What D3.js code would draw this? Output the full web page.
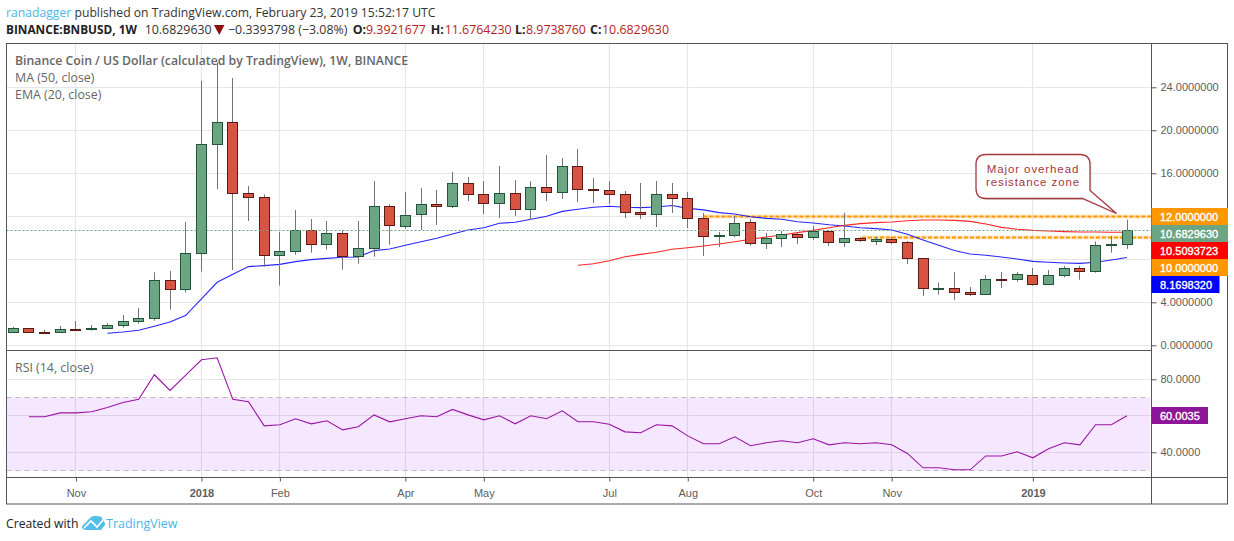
<!DOCTYPE html>
<html><head><meta charset="utf-8">
<script src="https://cdn.jsdelivr.net/npm/d3@7/dist/d3.min.js"></script>
<style>html,body{margin:0;padding:0;background:#fff;overflow:hidden}svg{display:block}
text{font-family:"Liberation Sans",Arial,sans-serif}
.hd{font-family:"Open Sans",sans-serif}</style></head><body>
<svg id="c" width="1234" height="541"></svg>
<script>
// Weekly candles, index 0..71
const opens=[1.21,1.58,1.24,1.21,1.52,1.52,1.58,1.86,2.23,2.51,6.05,5.21,8.56,18.70,20.73,14.13,13.76,8.36,8.74,10.69,9.39,10.41,8.24,9.02,12.93,11.16,12.14,13.11,12.9,15.07,14.04,13.17,14.13,12.62,14.69,14.2,16.65,14.5,14.41,14.04,12.37,12.15,14.04,13.67,11.81,10.13,10.19,11.44,9.45,9.92,10.32,10.01,10.6,9.55,9.95,9.73,9.86,9.58,8.09,5.27,5.3,4.93,4.71,6.14,6.14,6.51,5.64,6.51,7.16,6.85,9.35,9.3921677];
const highs=[1.71,1.58,1.43,1.80,2.26,1.89,2.05,2.82,3.47,6.79,6.91,11.47,24.6,26.3,24.86,14.82,14.04,10.54,12.59,11.75,11.56,10.69,11.56,15.28,13.11,14.26,14.63,14.45,16.12,15.66,15.28,16.68,15.37,15.28,17.7,17.42,18.26,15.56,15.28,14.35,15.1,15.28,15.1,14.26,12.31,10.54,12.03,11.75,10.45,10.63,10.45,11.1,10.73,12.31,10.07,10.07,10.07,9.7,8.09,5.83,6.81,5.42,6.54,6.81,6.81,7.19,7.0,7.38,7.38,9.67,10.17,11.676423];
const lows=[1.21,1.21,1.09,1.21,1.36,1.36,1.58,1.64,2.02,2.29,3.32,4.90,6.85,14.54,7.0,11.56,7.31,5.55,8.43,8.62,8.90,7.03,7.59,8.24,9.35,10.82,10.73,11.19,12.77,13.42,12.21,11.84,12.03,11.66,13.42,13.61,13.32,13.23,13.14,11.84,11.75,11.0,12.31,10.91,8.31,9.14,10.07,9.27,8.96,9.14,9.42,9.8,9.24,9.14,9.61,9.33,9.42,7.56,4.59,4.70,4.24,4.59,4.71,5.33,5.92,5.55,5.64,6.32,6.1,6.76,8.62,8.973876];
const closes=[1.58,1.21,1.18,1.49,1.46,1.58,1.86,2.23,2.51,6.05,5.21,8.56,18.70,20.73,14.13,13.76,8.36,8.74,10.69,9.39,10.41,8.24,9.02,12.93,11.16,12.14,13.11,12.9,15.07,14.01,13.17,14.13,12.62,14.69,14.2,16.65,14.48,14.38,14.01,12.34,12.15,14.04,13.64,11.78,10.1,10.25,11.35,9.45,9.95,10.32,10.01,10.6,9.55,9.95,9.73,9.89,9.55,8.09,5.27,5.33,4.9,4.71,6.14,6.1,6.6,5.64,6.51,7.16,6.85,9.3,9.39,10.682963];
const emaStart=6;
const ema20=[1.12,1.24,1.40,1.77,2.17,2.79,4.31,5.86,6.6,7.32,7.41,7.53,7.78,7.97,8.09,8.19,8.22,8.81,8.96,9.3,9.64,9.95,10.35,10.73,10.94,11.35,11.44,11.72,12.0,12.46,12.65,12.84,12.93,12.84,12.81,12.86,13.0,12.74,12.6,12.34,12.21,11.96,11.81,11.72,11.5,11.38,11.22,11.1,10.94,10.85,10.73,10.33,9.8,9.3,8.82,8.49,8.37,8.21,8.03,7.81,7.72,7.66,7.62,7.72,7.93,8.169832];
const maStart=36;
const ma50=[7.44,7.59,7.87,8.24,8.46,8.65,8.93,9.08,9.24,9.42,9.64,9.86,10.07,10.26,10.48,10.69,10.94,11.16,11.32,11.41,11.47,11.59,11.66,11.66,11.62,11.53,11.28,10.97,10.79,10.69,10.63,10.57,10.54,10.54,10.52,10.5093723];
const rsiStart=1;
const rsi14=[59.5,59.5,61.6,61.6,62.2,64.6,67.3,69,82.5,73.9,82.3,90.7,91.8,69,67.7,54.5,55.1,58.4,55.6,57.3,52.3,54,60.5,56.7,58.4,60,59.5,63.5,60.5,57.8,60,55.6,60,58.4,62.7,56.7,56.7,55.4,51.2,50.7,55.1,54.5,49,44.7,44.7,48.5,43.6,45.2,46.3,45.2,47.4,44.1,45.2,44.7,45.2,44.1,39.4,31.5,31.5,30.4,30.4,38,38,40.3,37,42,45.2,44.1,55.1,55.1,60.0035];
const priceTicks=[0,4,16,20,24];
const priceGrid=[0,4,8,12,16,20,24];
const rsiTicks=[40,80];
const timeIdx=[4,12,17,25,30,38,43,51,56,65];
const timeLabels=["Nov","2018","Feb","Apr","May","Jul","Aug","Oct","Nov","2019"];
const levels=[{v:12,from:44},{v:10,from:54.1}];
const priceTags=[["12.0000000","#ff9800"],["10.6829630","#6ba583"],["10.5093723","#ff0000"],["10.0000000","#ff9800"],["8.1698320","#0000ff"]];

const svg=d3.select("#c");
const L=6.5,R=1151.5,O=1227.5,T=43.5,M=350,B=477,E=504;
const x=d3.scaleLinear().domain([0,71]).range([13.2,1127]);
const y=d3.scaleLinear().domain([0,24]).range([345.3,87.3]);
const yr=d3.scaleLinear().domain([40,80]).range([452.3,379.3]);
const fmt7=d=>d.toFixed(7), fmt4=d=>d.toFixed(4);
const snap=v=>Math.round(v-.5)+.5;
const gridC="#e6e6e6",frame="#555",txt="#5d5d5d";

svg.append("rect").attr("width",1234).attr("height",541).attr("fill","#fff");
// grid
svg.append("g").selectAll("line").data(timeIdx).join("line")
 .attr("x1",d=>snap(x(d))).attr("x2",d=>snap(x(d))).attr("y1",T).attr("y2",B).attr("stroke",gridC).attr("stroke-width",1.2);
svg.append("g").selectAll("line").data(priceGrid).join("line")
 .attr("x1",L).attr("x2",R).attr("y1",d=>snap(y(d))).attr("y2",d=>snap(y(d))).attr("stroke",gridC).attr("stroke-width",1.2);
svg.append("g").selectAll("line").data(rsiTicks.concat([60])).join("line")
 .attr("x1",L).attr("x2",R).attr("y1",d=>snap(yr(d))).attr("y2",d=>snap(yr(d))).attr("stroke",gridC).attr("stroke-width",1.2);
// rsi band
svg.append("rect").attr("x",L).attr("width",R-L-1.5).attr("y",yr(70)).attr("height",yr(30)-yr(70)).attr("fill","#9915ff").attr("fill-opacity",.1);
[70,30].forEach(v=>svg.append("line").attr("x1",L).attr("x2",R-1.5).attr("y1",snap(yr(v))).attr("y2",snap(yr(v))).attr("stroke","#c3b6c8").attr("stroke-dasharray","5 4"));
// levels
levels.forEach(l=>{
 const x0=x(l.from),yy=snap(y(l.v));
 svg.append("line").attr("x1",x0).attr("x2",R).attr("y1",yy).attr("y2",yy).attr("stroke","#ff9800").attr("stroke-opacity",.22).attr("stroke-width",4);
 svg.append("line").attr("x1",x0).attr("x2",R).attr("y1",yy).attr("y2",yy).attr("stroke","#ff9800").attr("stroke-width",2).attr("stroke-dasharray","4 2");
});
// MA lines, behind the candles
const ln=(arr,st,yy)=>d3.line().x((d,i)=>x(i+st)).y(d=>yy(d))(arr);
svg.append("path").attr("d",ln(ema20,emaStart,y)).attr("fill","none").attr("stroke","#0000ff").attr("stroke-opacity",.85).attr("stroke-width",1.1);
svg.append("path").attr("d",ln(ma50,maStart,y)).attr("fill","none").attr("stroke","#ff0000").attr("stroke-opacity",.85).attr("stroke-width",1.1);
svg.append("path").attr("d",ln(rsi14,rsiStart,yr)).attr("fill","none").attr("stroke","#9915a5").attr("stroke-width",1.1);
// candles
const idx=d3.range(opens.length);
svg.append("g").selectAll("line").data(idx).join("line")
 .attr("x1",i=>snap(x(i))).attr("x2",i=>snap(x(i))).attr("y1",i=>y(highs[i])).attr("y2",i=>y(lows[i])).attr("stroke","#737375").attr("stroke-width",1);
svg.append("g").selectAll("rect").data(idx).join("rect")
 .attr("x",i=>snap(x(i))-5).attr("width",10)
 .attr("y",i=>Math.round(y(Math.max(opens[i],closes[i])))+.5)
 .attr("height",i=>Math.max(1,Math.round(Math.abs(y(opens[i])-y(closes[i])))))
 .attr("fill",i=>closes[i]>=opens[i]?"#6ba583":"#d75442")
 .attr("stroke",i=>closes[i]>=opens[i]?"#225437":"#5b1a13").attr("stroke-width",1);
// last price line
svg.append("line").attr("x1",L).attr("x2",R).attr("y1",snap(y(10.682963))).attr("y2",snap(y(10.682963))).attr("stroke","#6ba583").attr("stroke-dasharray","2 2");
// frame
svg.append("rect").attr("x",L).attr("y",T).attr("width",O-L).attr("height",E-T).attr("fill","none").attr("stroke",frame);
[[L,R,M],[L,O,B]].forEach(a=>svg.append("line").attr("x1",a[0]).attr("x2",a[1]).attr("y1",a[2]+.5).attr("y2",a[2]+.5).attr("stroke",frame));
svg.append("line").attr("x1",R).attr("x2",R).attr("y1",T).attr("y2",E).attr("stroke",frame);
// axes
const ax=svg.append("g").attr("transform",`translate(${R},0)`).call(d3.axisRight(y).tickValues(priceTicks).tickFormat(fmt7).tickSize(5).tickPadding(4));
const ax2=svg.append("g").attr("transform",`translate(${R},0)`).call(d3.axisRight(yr).tickValues(rsiTicks).tickFormat(fmt4).tickSize(5).tickPadding(4));
const ax3=svg.append("g").attr("transform",`translate(0,${B+.5})`).call(d3.axisBottom(x).tickValues(timeIdx).tickFormat((d,i)=>timeLabels[i]).tickSize(4).tickPadding(8));
[ax,ax2,ax3].forEach(a=>{a.select(".domain").remove();a.selectAll("line").attr("stroke",frame);a.selectAll("text").attr("fill",txt).attr("font-size",11).attr("font-family",'"Liberation Sans",Arial,sans-serif');});
ax3.selectAll("text").attr("font-weight",(d,i)=>/^20/.test(timeLabels[i])?"bold":null);
// price tags
const tagTop=[208,225,242,259,276];
const tagText=(s,tx,ty)=>svg.append("text").attr("x",tx).attr("y",ty).attr("fill","#fff").attr("stroke","#fff").attr("stroke-width",.35).attr("font-size",11).text(s);
priceTags.forEach((t,i)=>{
 const w=t[0].length===9?68:76.5;
 svg.append("rect").attr("x",R).attr("y",tagTop[i]).attr("width",w).attr("height",17).attr("fill",t[1]);
 tagText(t[0],R+8.5,tagTop[i]+12.5);
});
svg.append("rect").attr("x",R).attr("y",407).attr("width",56.5).attr("height",17).attr("fill","#8e1599");
tagText("60.0035",R+8.5,419.5);
// legends
const lg=(t,yy)=>svg.append("text").attr("class","hd").attr("x",15).attr("y",yy).attr("fill","#666").attr("font-size",12.4).text(t);
lg("Binance Coin / US Dollar (calculated by TradingView), 1W, BINANCE",65).attr("font-weight",600).attr("font-size",12.25);
lg("MA (50, close)",82);lg("EMA (20, close)",99);lg("RSI (14, close)",372);
// header
const h1=svg.append("text").attr("class","hd").attr("x",6).attr("y",17).attr("font-size",12.2).attr("fill","#333");
h1.append("tspan").attr("fill","#4db6e8").text("ranadagger");
h1.append("tspan").text(" published on TradingView.com, February 23, 2019 15:52:17 UTC");
const hd2=(s,hx,col,w)=>svg.append("text").attr("class","hd").attr("x",hx).attr("y",34).attr("font-size",12.4).attr("fill",col).attr("font-weight",w||400).text(s);
hd2("BINANCE:BNBUSD, 1W",6,"#222",700).attr("font-size",11.8);
hd2("10.6829630",144.7,"#333");
svg.append("path").attr("d","M214,25H224.5L219.25,35Z").attr("fill","#8b0f0f");
hd2("−0.3393798 (−3.08%)",228,"#333");
[["O:","9.3921677",352.7,366],["H:","11.6764230",430.7,444.7],["L:","8.9738760",515,526],["C:","10.6829630",590,602]].forEach(p=>{
 hd2(p[0],p[2],"#222",700);
 hd2(p[1],p[3],"#b71c1c");
});
// callout
const cal=svg.append("g");
const cpath="M986,154.5H1080Q1090,154.5 1090,164.5V190.5L1116.5,213.5L1082.5,198.5H986Q976,198.5 976,188.5V164.5Q976,154.5 986,154.5Z";
cal.append("path").attr("d",cpath).attr("transform","translate(1.5,1.5)").attr("fill","#bbb").attr("opacity",.5);
cal.append("path").attr("d",cpath).attr("fill","#fff").attr("stroke","#a5373f").attr("stroke-width",1.3);
[["Major overhead",173],["resistance zone",186.2]].forEach(t=>cal.append("text").attr("x",1033).attr("y",t[1]).attr("text-anchor","middle").attr("font-size",11.5).attr("letter-spacing",.9).attr("fill","#a5373f").text(t[0]));
// footer
svg.append("text").attr("class","hd").attr("x",6).attr("y",528).attr("font-size",12.2).attr("fill","#222").text("Created with");
svg.append("path").attr("d","M82,526L91,517Q93,515.5 96,516L101,516.5L105.5,524L101,530H86Q81,529 82,526Z").attr("fill","#54c0e8");
svg.append("path").attr("d","M84,528L91,521L97,527L104,519").attr("fill","none").attr("stroke","#fff").attr("stroke-width",1.6);
svg.append("text").attr("class","hd").attr("x",106).attr("y",528).attr("font-size",12.5).attr("fill","#4db6e8").text("TradingView");
</script></body></html>
